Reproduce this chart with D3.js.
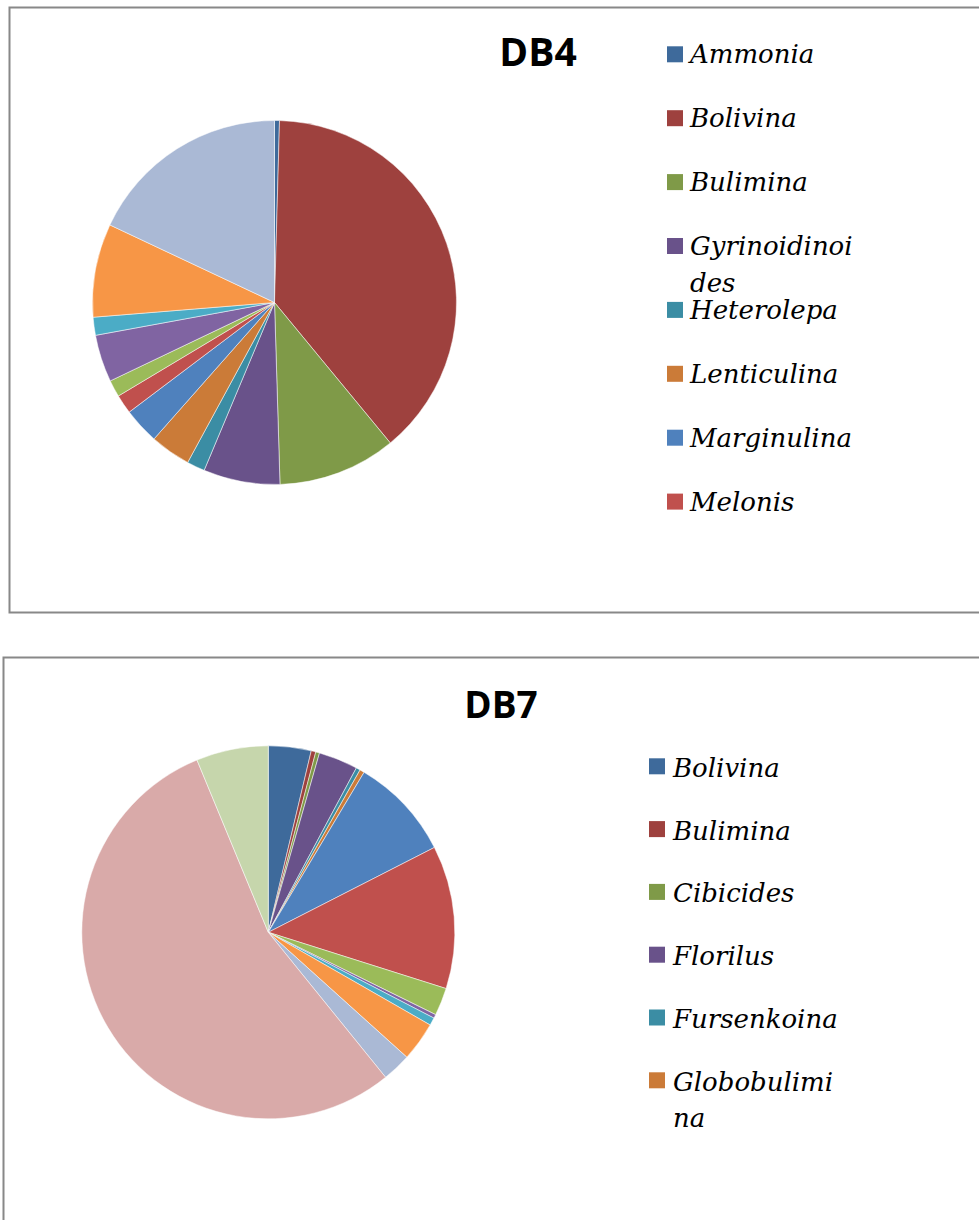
<!DOCTYPE html>
<html>
<head>
<meta charset="utf-8">
<script src="https://cdn.jsdelivr.net/npm/d3@7"></script>
<style>
  body { margin: 0; background: #fff; }
  .title { font-family: "Open Sans", sans-serif; font-weight: 700; }
</style>
</head>
<body>
<svg id="chart"></svg>
<script>
// DB4 - slice shares in percent (clockwise from 12 o'clock)
const db4Names = ["Ammonia", "Bolivina", "Bulimina", "Gyrinoidinoides", "Heterolepa",
                  "Lenticulina", "Marginulina", "Melonis"];
const db4Values = [0.44, 38.6, 10.5, 6.8, 1.6, 3.6, 3.2, 1.7, 1.5, 4.2, 1.6, 8.3, 18.0];

// DB7
const db7Names = ["Bolivina", "Bulimina", "Cibicides", "Florilus", "Fursenkoina", "Globobulimina"];
const db7Values = [3.7, 0.4, 0.33, 3.4, 0.36, 0.4, 8.9, 12.4, 2.4, 0.33, 0.67, 3.4, 2.5, 54.6, 6.25];

// office 2007 style slice colours
const palette = ["#3E6A9B", "#9E413E", "#7F9A48", "#69528A", "#3B8DA4", "#CB7B38",
                 "#4F81BD", "#C0504D", "#9BBB59", "#8064A2", "#4BACC6", "#F79646",
                 "#AAB9D5", "#D9AAA9", "#C6D6AC"];

const W = 979, H = 1220;
const svg = d3.select("#chart").attr("width", W).attr("height", H);

function drawPie(cfg) {
  const g = svg.append("g");

  // chart frame
  g.append("rect")
    .attr("x", cfg.box[0]).attr("y", cfg.box[1])
    .attr("width", cfg.box[2]).attr("height", cfg.box[3])
    .attr("fill", "none")
    .attr("stroke", "#888")
    .attr("stroke-width", 2);

  g.append("text")
    .attr("class", "title")
    .attr("x", cfg.titleX).attr("y", cfg.titleY)
    .attr("text-anchor", "middle")
    .attr("font-size", cfg.titleSize)
    .text(cfg.title);

  const color = d3.scaleOrdinal()
    .domain(d3.range(cfg.values.length))
    .range(palette);

  const pie = d3.pie().sort(null).value(d => d)(cfg.values);
  const arc = d3.arc().innerRadius(0).outerRadius(cfg.r);

  g.append("g")
    .attr("transform", `translate(${cfg.cx},${cfg.cy})`)
    .selectAll("path")
    .data(pie)
    .join("path")
      .attr("d", arc)
      .attr("fill", (d, i) => color(i))
      .attr("stroke", "#fff")
      .attr("stroke-width", 0.5);

  // legend (truncated like the original - only the names that fit)
  const leg = g.append("g");
  cfg.names.forEach((name, i) => {
    const by = cfg.legY + i * cfg.legStep;
    leg.append("rect")
      .attr("x", cfg.legX).attr("y", by - cfg.sqOff)
      .attr("width", 16).attr("height", 16)
      .attr("fill", color(i));
    const t = leg.append("text")
      .attr("x", cfg.legX + cfg.textOff).attr("y", by)
      .style("font-family", "'DejaVu Serif', serif")
      .style("font-style", "italic")
      .style("font-size", cfg.legSize + "px");
    // break long names by character when they exceed the legend width
    let line = "", lines = [];
    for (const ch of name) {
      t.text(line + ch);
      if (t.node().getComputedTextLength() > cfg.wrapW && line.length) {
        lines.push(line);
        line = ch;
      } else line += ch;
    }
    lines.push(line);
    t.text(null);
    lines.forEach((l, k) => {
      t.append("tspan")
        .attr("x", cfg.legX + cfg.textOff)
        .attr("y", by + k * 36.7)
        .text(l);
    });
  });
}

drawPie({
  title: "DB4", titleX: 538, titleY: 66, titleSize: 39,
  box: [9.5, 7.5, 1100, 605],
  values: db4Values, names: db4Names,
  cx: 274.5, cy: 302.5, r: 182,
  legX: 667, legY: 63.3, legStep: 63.9, sqOff: 17, textOff: 23,
  legSize: 26, wrapW: 170
});

drawPie({
  title: "DB7", titleX: 501, titleY: 718, titleSize: 37,
  box: [3.5, 657.5, 1100, 700],
  values: db7Values, names: db7Names,
  cx: 268.3, cy: 932.3, r: 186.5,
  legX: 649, legY: 776.7, legStep: 62.8, sqOff: 18.4, textOff: 24,
  legSize: 26, wrapW: 170
});
</script>
</body>
</html>
